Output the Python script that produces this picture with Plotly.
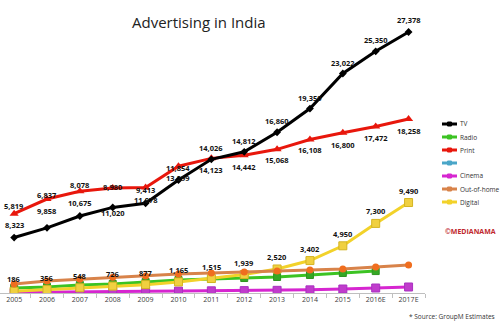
import plotly.graph_objects as go

# ---------------- data ----------------
years = ["2005", "2006", "2007", "2008", "2009", "2010", "2011", "2012",
         "2013", "2014", "2015", "2016E", "2017E"]
tv = [5819, 6837, 8078, 8980, 9413, 11854, 14026, 14812, 16860, 19350, 23022, 25350, 27378]
print_ad = [8323, 9858, 10675, 11020, 11078, 13299, 14123, 14442, 15068, 16108, 16800, 17472, 18258]
radio = [530, 640, 840, 950, 1150, 1360, 1470, 1570, 1680, 1890, 2100, 2300, None]
cinema = [50, 100, 130, 160, 180, 200, 230, 250, 280, 330, 420, 525, 630]
ooh = [950, 1250, 1450, 1650, 1780, 2000, 2100, 2200, 2300, 2420, 2520, 2720, 2930]
digital = [186, 356, 548, 726, 877, 1165, 1515, 1939, 2520, 3402, 4950, 7300, 9490]

legend_names = ["TV", "Radio", "Print", "", "Cinema", "Out-of-home", "Digital"]

# ---------------- styles ----------------
W, H = 500, 333
ML, MR, MT, MB = 0, 75, 7, 40
PW, PH = W - ML - MR, H - MT - MB

C_TV = "#000000"
C_PRINT = "#e8170c"
C_RADIO = "#3cc323"
C_CINEMA = "#d626d0"
C_OOH = "#d8834a"
C_DIGITAL = "#f2d22a"
C_BLANK = "#4aa6c8"

# label offsets in px (positive = up)
tv_shift = [32, 33, 31, 20, 13, 12, 11, 11, 11, 11, 11, 11, 12]
print_shift = [-11, -12, -12, -25, -13, -12, -12, -12, -11, -11, -12, -12, -12]
digital_shift = 12

LBL_FONT = dict(family="Open Sans", size=7.5, color="#111111")


def px2x(px):
    return (px - ML) / PW


def px2y(py):
    return (H - MB - py) / PH


fig = go.Figure()

fig.add_trace(go.Scatter(x=years, y=cinema, mode="lines+markers", name="Cinema",
                         line=dict(color=C_CINEMA, width=3),
                         marker=dict(symbol="square", size=8, color="#c03ccc",
                                     line=dict(color="#a832c0", width=1))))
fig.add_trace(go.Scatter(x=years, y=radio, mode="lines+markers", name="Radio",
                         line=dict(color=C_RADIO, width=3),
                         marker=dict(symbol="square", size=7, color="#35a825",
                                     line=dict(color="#2e9420", width=1))))
fig.add_trace(go.Scatter(x=years, y=digital, mode="lines+markers", name="Digital",
                         line=dict(color=C_DIGITAL, width=3),
                         marker=dict(symbol="square", size=8, color="#f0d040",
                                     line=dict(color="#d4b422", width=1))))
fig.add_trace(go.Scatter(x=years, y=ooh, mode="lines+markers", name="Out-of-home",
                         line=dict(color=C_OOH, width=3),
                         marker=dict(symbol="circle", size=7, color="#f06e1e")))
fig.add_trace(go.Scatter(x=years, y=print_ad, mode="lines+markers", name="Print",
                         line=dict(color=C_PRINT, width=3),
                         marker=dict(symbol="triangle-up", size=8, color=C_PRINT)))
fig.add_trace(go.Scatter(x=years, y=tv, mode="lines+markers", name="TV",
                         line=dict(color=C_TV, width=3),
                         marker=dict(symbol="diamond", size=6, color=C_TV)))

annotations = []
for i, yr in enumerate(years):
    # category index used as x so numeric-looking years are not cast to numbers
    annotations.append(dict(x=i, y=tv[i], xref="x", yref="y", text=f"<b>{tv[i]:,}</b>",
                            showarrow=False, yshift=tv_shift[i], font=LBL_FONT))
    annotations.append(dict(x=i, y=print_ad[i], xref="x", yref="y", text=f"<b>{print_ad[i]:,}</b>",
                            showarrow=False, yshift=print_shift[i], font=LBL_FONT))
    annotations.append(dict(x=i, y=digital[i], xref="x", yref="y", text=f"<b>{digital[i]:,}</b>",
                            showarrow=False, yshift=digital_shift, font=LBL_FONT))

# title
annotations.append(dict(x=px2x(199), y=px2y(22), xref="paper", yref="paper",
                        text="Advertising in India", showarrow=False,
                        font=dict(family="Open Sans", size=15, color="#222222"),
                        xanchor="center", yanchor="middle"))
# watermark
annotations.append(dict(x=px2x(471), y=px2y(231), xref="paper", yref="paper",
                        text="<b>©MEDIANAMA</b>", showarrow=False,
                        font=dict(family="Open Sans", size=7, color="#c0272d"),
                        xanchor="center", yanchor="middle"))
# source
annotations.append(dict(x=px2x(407), y=px2y(316), xref="paper", yref="paper",
                        text="* Source: GroupM Estimates", showarrow=False,
                        font=dict(family="Open Sans", size=6.5, color="#333333"),
                        xanchor="left", yanchor="middle"))

# manual legend
legend_colors = [C_TV, C_RADIO, C_PRINT, C_BLANK, C_CINEMA, C_OOH, C_DIGITAL]
legend_rows = [124, 137, 150, 163, 176, 189, 202]
shapes = []
for name, col, py in zip(legend_names, legend_colors, legend_rows):
    shapes.append(dict(type="line", xref="paper", yref="paper",
                       x0=px2x(442), x1=px2x(457), y0=px2y(py), y1=px2y(py),
                       line=dict(color=col, width=3)))
    shapes.append(dict(type="rect", xref="paper", yref="paper",
                       x0=px2x(447.5), x1=px2x(451.5), y0=px2y(py + 2), y1=px2y(py - 2),
                       line=dict(color=col, width=1), fillcolor=col))
    if name:
        annotations.append(dict(x=px2x(458), y=px2y(py), xref="paper", yref="paper",
                                text=name, showarrow=False, xanchor="left", yanchor="middle",
                                font=dict(family="Open Sans", size=6.5, color="#333333")))

fig.update_layout(
    width=W, height=H,
    margin=dict(l=ML, r=MR, t=MT, b=MB),
    paper_bgcolor="white", plot_bgcolor="white",
    showlegend=False,
    annotations=annotations,
    shapes=shapes,
    xaxis=dict(type="category", range=[-0.43, 12.5], showline=True, linecolor="#bfbfbf",
               linewidth=1, ticks="outside", tickson="boundaries", ticklen=4,
               tickcolor="#bfbfbf", showgrid=False, zeroline=False,
               tickfont=dict(family="Open Sans", size=7, color="#404040")),
    yaxis=dict(range=[0, 30000], visible=False, showgrid=False),
)

fig.write_html("out.html")
